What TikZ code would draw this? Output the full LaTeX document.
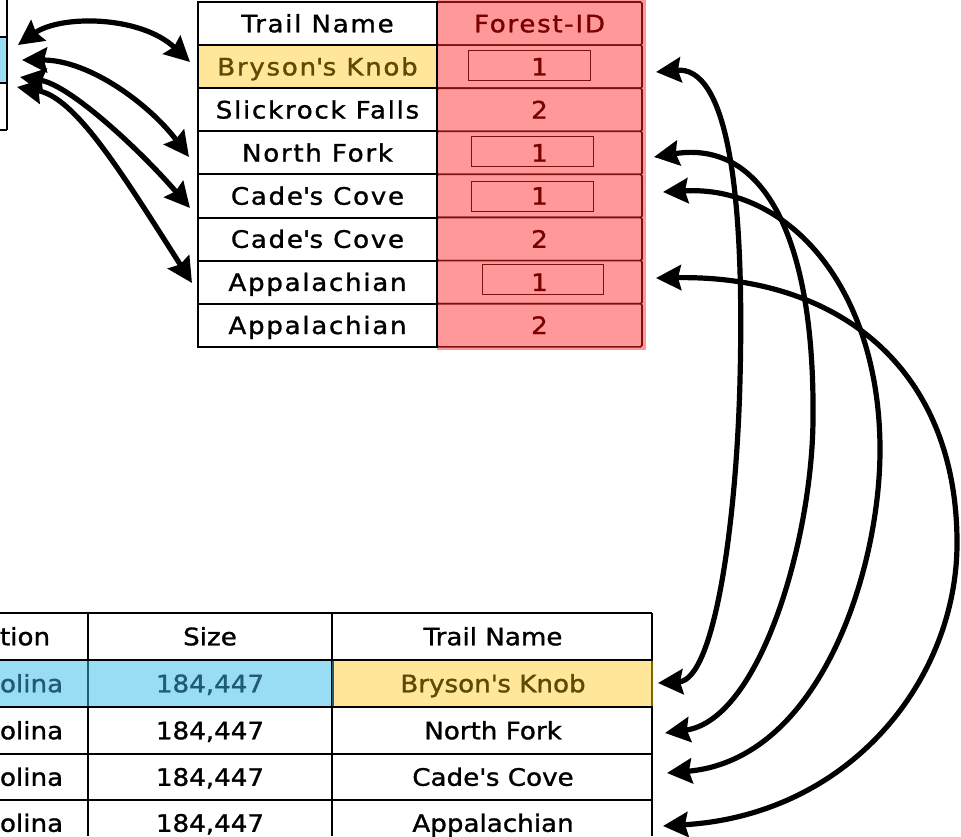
\documentclass[tikz,border=0pt]{standalone}
\usepackage{fontspec}
\setmainfont{DejaVu Sans}[FakeStretch=1.09,FakeBold=1.2]
\newfontfamily\spaced{DejaVu Sans}[FakeStretch=1.09,FakeBold=1.2,LetterSpace=7]
\usetikzlibrary{arrows.meta}
\definecolor{cellblue}{HTML}{99DDF5}
\definecolor{blueline}{HTML}{1E5E73}
\definecolor{bluetext}{HTML}{1F5C73}
\definecolor{cellyellow}{HTML}{FFE699}
\definecolor{yellowline}{HTML}{7F6500}
\definecolor{yellowtext}{HTML}{5C4A05}
\definecolor{cellred}{HTML}{FF9999}
\definecolor{redline}{HTML}{7A1010}
\definecolor{redtext}{HTML}{7A0000}
\begin{document}
\begin{tikzpicture}[x=1pt,y=-1pt,
  txt/.style={inner sep=0pt,outer sep=0pt,font=\fontsize{24}{28}\selectfont,text height=17.5pt,text depth=0pt},
  topcell/.style={draw=black,line width=2pt,fill=white,inner sep=0pt,outer sep=0pt,
    minimum width=239pt,minimum height=43.1pt,font=\spaced\fontsize{24}{28}\selectfont,text height=17.5pt,text depth=0pt},
  idcell/.style={draw=redline,line width=1.6pt,fill=cellred,rounded corners=1.5pt,inner sep=0pt,outer sep=0pt,
    minimum width=205pt,minimum height=43.1pt,text=redtext,font=\spaced\fontsize{24}{28}\selectfont,text height=17.5pt,text depth=0pt},
  innerbox/.style={draw=redline,line width=0.8pt},
  grid/.style={draw=black,line width=2pt},
  conn/.style={line width=5.2pt,line cap=round,arrows={Stealth[length=25pt,width=25pt,inset=3pt]-Stealth[length=25pt,width=25pt,inset=3pt]}}]
\useasboundingbox (0,0) rectangle (961,836);
\fill[white] (0,0) rectangle (961,836);

% partial table at top-left
\fill[cellblue] (0,38) rectangle (6,82);
\draw[grid] (7,0) -- (7,130);
\draw[grid] (0,37) -- (7,37);
\draw[grid] (0,83) -- (7,83);
\draw[grid] (0,130) -- (7,130);

% top table: Forest-ID column
\fill[cellred] (437,0) rectangle (646,350);
\node[idcell] (fid0) at (539.5,23.55) {Forest-ID};
\node[idcell] (fid1) at (539.5,66.65) {1};
\node[idcell] (fid2) at (539.5,109.75) {2};
\node[idcell] (fid3) at (539.5,152.85) {1};
\node[idcell] (fid4) at (539.5,195.95) {1};
\node[idcell] (fid5) at (539.5,239.05) {2};
\node[idcell] (fid6) at (539.5,282.15) {1};
\node[idcell] (fid7) at (539.5,325.25) {2};
\draw[innerbox] (468,50) rectangle (590,80);
\draw[innerbox] (471,136) rectangle (593,166);
\draw[innerbox] (471,181) rectangle (593,211);
\draw[innerbox] (482,264) rectangle (603,294);

% top table: Trail Name column
\node[topcell] (tn0) at (317.5,23.55) {Trail Name};
\node[topcell,fill=cellyellow,text=yellowtext] (tn1) at (317.5,66.65) {Bryson\textquotesingle s Knob};
\node[topcell] (tn2) at (317.5,109.75) {Slickrock Falls};
\node[topcell] (tn3) at (317.5,152.85) {North Fork};
\node[topcell] (tn4) at (317.5,195.95) {Cade\textquotesingle s Cove};
\node[topcell] (tn5) at (317.5,239.05) {Cade\textquotesingle s Cove};
\node[topcell] (tn6) at (317.5,282.15) {Appalachian};
\node[topcell] (tn7) at (317.5,325.25) {Appalachian};

% bottom table
\fill[cellblue] (0,661) rectangle (333,706);
\fill[cellyellow] (334,661) rectangle (652,706);
\foreach \yy in {613,660,707,754,800} \draw[grid] (0,\yy) -- (652,\yy);
\foreach \xx in {88,332,652} \draw[grid] (\xx,613) -- (\xx,836);
\draw[line width=2pt,blueline] (88,661) -- (88,706);
\draw[line width=2pt,blueline] (333,661) -- (333,706);
\draw[line width=2pt,yellowline] (652,661) -- (652,706);

\node[txt,anchor=west] (bl0) at (0,636.5) {tion};
\node[txt,anchor=west,text=bluetext] (bl1) at (0,683.5) {olina};
\node[txt,anchor=west] (bl2) at (0,730.5) {olina};
\node[txt,anchor=west] (bl3) at (0,777) {olina};
\node[txt,anchor=west] (bl4) at (0,823) {olina};
\node[txt] (bs0) at (210,636.5) {Size};
\node[txt,text=bluetext] (bs1) at (210,683.5) {184,447};
\node[txt] (bs2) at (210,730.5) {184,447};
\node[txt] (bs3) at (210,777) {184,447};
\node[txt] (bs4) at (210,823) {184,447};
\node[txt] (bt0) at (493,636.5) {Trail Name};
\node[txt,text=yellowtext] (bt1) at (493,683.5) {Bryson\textquotesingle s Knob};
\node[txt] (bt2) at (493,730.5) {North Fork};
\node[txt] (bt3) at (493,777) {Cade\textquotesingle s Cove};
\node[txt] (bt4) at (493,823) {Appalachian};

% connector end points
\coordinate (L1s) at (18,45);  \coordinate (L1e) at (190,62);
\coordinate (L2s) at (22,60);  \coordinate (L2e) at (189,157);
\coordinate (L3s) at (20,77);  \coordinate (L3e) at (190,208);
\coordinate (L4s) at (17,87);  \coordinate (L4e) at (192,283);
\coordinate (RAs) at (656,72);  \coordinate (RAe) at (658,683);
\coordinate (RBs) at (654,157); \coordinate (RBe) at (665,733);
\coordinate (RCs) at (663,192); \coordinate (RCe) at (667,773);
\coordinate (RDs) at (656,278); \coordinate (RDe) at (663,826);

% left connectors
\draw[conn] (L1s) .. controls (60,15) and (140,15) .. (L1e);
\draw[conn] (L2s) .. controls (90,60) and (150,105) .. (L2e);
\draw[conn] (L3s) .. controls (70,85) and (140,150) .. (L3e);
\draw[conn] (L4s) .. controls (75,97) and (120,170) .. (L4e);

% right connectors
\draw[conn] (RAs) .. controls (725,66) and (745,180) .. (740,380) .. controls (736.5,520) and (715,680) .. (RAe);
\draw[conn] (RBs) .. controls (760,140) and (815,230) .. (813,420) .. controls (812,540) and (760,720) .. (RBe);
\draw[conn] (RCs) .. controls (790,185) and (880,290) .. (880,450) .. controls (880,570) and (820,760) .. (RCe);
\draw[conn] (RDs) .. controls (840,275) and (958,370) .. (957,545) .. controls (956,680) and (850,815) .. (RDe);
\end{tikzpicture}
\end{document}
